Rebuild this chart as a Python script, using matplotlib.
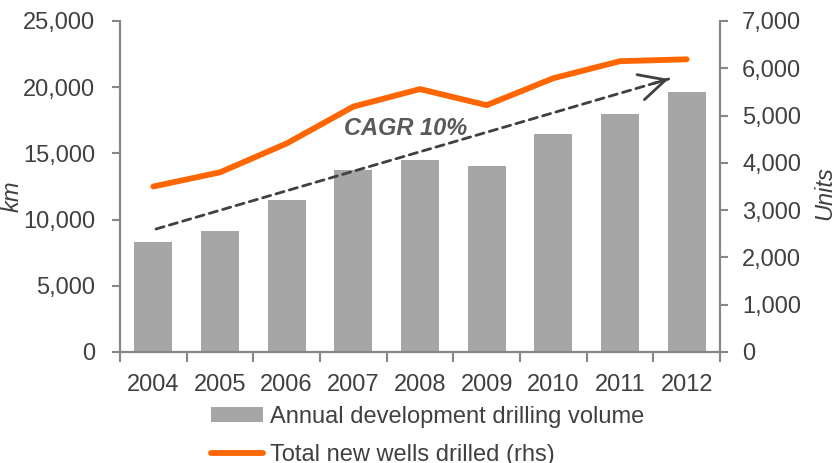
import matplotlib.pyplot as plt
from matplotlib.ticker import FuncFormatter, FixedLocator

# data
years = ['2004', '2005', '2006', '2007', '2008', '2009', '2010', '2011', '2012']
drilling_km = [8330, 9120, 11480, 13750, 14480, 14070, 16460, 17950, 19610]
new_wells = [3500, 3800, 4410, 5190, 5560, 5220, 5790, 6150, 6190]

# CAGR trend arrow (start / end in bar-axis data units)
cagr_start = (0.04, 9290)
cagr_end = (7.73, 20620)
cagr_label = 'CAGR 10%'

bar_color = '#A6A6A6'
line_color = '#FF6600'
text_color = '#404040'
spine_color = '#868686'

plt.rcParams['font.family'] = ['Liberation Sans', 'DejaVu Sans']
plt.rcParams['font.size'] = 17

fig = plt.figure(figsize=(8.35, 4.63), dpi=100)
ax = fig.add_axes([120 / 835, 1 - 352 / 463, 600 / 835, 331 / 463])
ax2 = ax.twinx()

x = list(range(len(years)))
bars = ax.bar(x, drilling_km, width=0.57, color=bar_color,
              label='Annual development drilling volume', zorder=2)
line, = ax2.plot(x, new_wells, color=line_color, lw=4.2,
                 solid_capstyle='round', solid_joinstyle='round',
                 label='Total new wells drilled (rhs)', zorder=3)

ax.set_xlim(-0.5, len(years) - 0.5)
ax.set_ylim(0, 25000)
ax2.set_ylim(0, 7000)
ax.set_yticks(range(0, 25001, 5000))
ax2.set_yticks(range(0, 7001, 1000))

fmt = FuncFormatter(lambda v, p: f'{int(v):,}')
ax.yaxis.set_major_formatter(fmt)
ax2.yaxis.set_major_formatter(fmt)

ax.set_xticks(x)
ax.set_xticklabels(years)
ax.xaxis.set_minor_locator(FixedLocator([i - 0.5 for i in range(len(years) + 1)]))
ax.tick_params(axis='x', which='major', length=0, pad=16, colors=text_color)
ax.tick_params(axis='x', which='minor', length=7, width=1.5, color=spine_color)
ax.tick_params(axis='y', length=6, width=1.5, color=spine_color,
               labelcolor=text_color, pad=12)
ax2.tick_params(axis='y', length=6, width=1.5, color=spine_color,
                labelcolor=text_color, pad=10)

for a in (ax, ax2):
    a.spines['top'].set_visible(False)
    for s in ('left', 'right', 'bottom'):
        a.spines[s].set_color(spine_color)
        a.spines[s].set_linewidth(1.5)

ax.set_ylabel('km', style='italic', color=text_color, labelpad=0)
ax.yaxis.set_label_coords(-0.16, 0.47)
ax2.set_ylabel('Units', style='italic', color=text_color, labelpad=0)
ax2.yaxis.set_label_coords(1.155, 0.48)

ax2.set_zorder(ax.get_zorder() + 1)
ax2.patch.set_visible(False)

# trend arrow: dashed shaft, then a short solid piece carrying the head
ax.annotate('', xy=cagr_end, xytext=cagr_start,
            arrowprops=dict(arrowstyle='-', linestyle=(0, (3, 2)), lw=2,
                            color=text_color, shrinkA=0, shrinkB=0),
            zorder=4)
head_from = (cagr_end[0] - 0.03 * (cagr_end[0] - cagr_start[0]),
             cagr_end[1] - 0.03 * (cagr_end[1] - cagr_start[1]))
ax.annotate('', xy=cagr_end, xytext=head_from,
            arrowprops=dict(arrowstyle='->,head_length=1.1,head_width=0.55',
                            lw=2, color=text_color, shrinkA=0, shrinkB=0),
            zorder=4)
ax.text(3.79, 16900, cagr_label, ha='center', va='center', fontsize=17,
        fontweight='bold', style='italic', color='#595959', zorder=5)

fig.legend([bars, line],
           ['Annual development drilling volume', 'Total new wells drilled (rhs)'],
           loc='upper left', bbox_to_anchor=(211 / 835, 1 - 406 / 463),
           frameon=False, borderpad=0, borderaxespad=0, handlelength=2.2,
           handleheight=0.6, handletextpad=0.28, labelspacing=0.68,
           labelcolor=text_color)

fig.savefig('out.png', dpi=100)
